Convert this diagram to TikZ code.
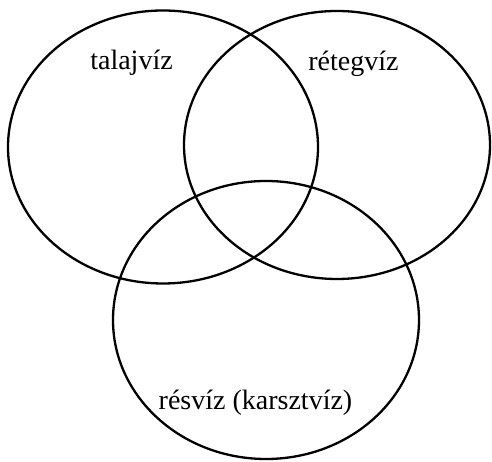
\documentclass[tikz,border=0pt]{standalone}
\usepackage{fontspec}
\setmainfont{Liberation Serif}
\usetikzlibrary{shapes.geometric}
\begin{document}
\begin{tikzpicture}[x=1pt,y=1pt,
  setring/.style={ellipse,draw=black,line width=2.3pt,inner sep=0pt,outer sep=0pt},
  setlabel/.style={anchor=base,font=\fontsize{28}{33}\selectfont,inner sep=0pt}]
\useasboundingbox (0,0) rectangle (492,462);
\node[setring,minimum width=310pt,minimum height=273pt] (talaj) at (163,315) {};
\node[setring,minimum width=306pt,minimum height=268pt] (reteg) at (337,317) {};
\node[setring,minimum width=306pt,minimum height=278pt] (res) at (266,142) {};
\node[setlabel] (ltalaj) at (131.5,392) {talajvíz};
\node[setlabel] (lreteg) at (353.5,391) {rétegvíz};
\node[setlabel] (lres) at (255.5,52) {résvíz (karsztvíz)};
\end{tikzpicture}
\end{document}
